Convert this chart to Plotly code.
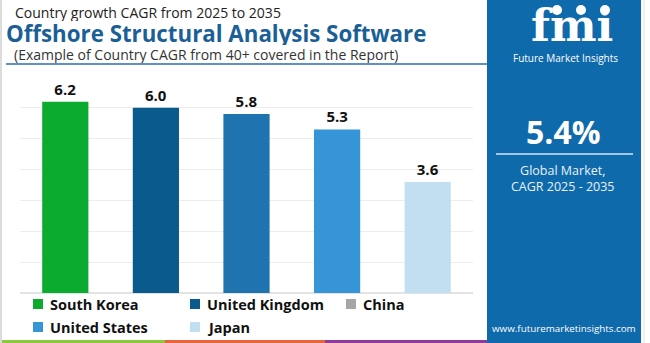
import plotly.graph_objects as go

W, H = 650, 343

countries = ["South Korea", "United Kingdom", "China", "United States", "Japan"]
cagr = [6.2, 6.0, 5.8, 5.3, 3.6]
bar_colors = ["#0bab2f", "#0b5a8e", "#1f73ae", "#3595d6", "#c2dff1"]
legend_colors = ["#0bab2f", "#0b5a8e", "#a6a6a6", "#3595d6", "#c2dff1"]
y_ticks = [0, 1, 2, 3, 4, 5, 6, 7]

title_top = "Country growth CAGR from 2025 to 2035"
title_main = "Offshore Structural Analysis Software"
title_sub = "(Example of Country CAGR from 40+ covered in the Report)"
global_cagr = "5.4%"
panel_lines = ["Global Market,", "CAGR 2025 - 2035"]
website = "www.futuremarketinsights.com"
logo_text = "fmi"
logo_caption = "Future Market Insights"

FONT = "Open Sans"
PANEL_BLUE = "#0f6aab"
TITLE_BLUE = "#1b5f97"


def px(x):
    return x / W


def py(y):
    return 1 - y / H


fig = go.Figure()
fig.add_trace(go.Bar(
    x=countries, y=cagr,
    marker=dict(color=bar_colors, line=dict(width=0)),
    text=[f"{v:.1f}" for v in cagr],
    textposition="outside",
    textfont=dict(family=FONT, size=15, color="#111111", weight="bold"),
    cliponaxis=False,
    showlegend=False,
    hoverinfo="skip",
))

fig.update_layout(
    width=W, height=H,
    margin=dict(l=0, r=0, t=0, b=0),
    paper_bgcolor="white",
    plot_bgcolor="white",
    bargap=0.49,
    showlegend=False,
    font=dict(family=FONT),
    xaxis=dict(domain=[px(20), px(473)], showticklabels=False, showgrid=False,
               zeroline=False, showline=False, ticks=""),
    yaxis=dict(domain=[py(293), py(77)], range=[0, 7], tickvals=y_ticks,
               showticklabels=False, showgrid=True, gridcolor="#ededed",
               gridwidth=1, zeroline=True, zerolinecolor="#e3e3e3",
               showline=False, ticks=""),
)

shapes = []
annotations = []

# outer thin border on left
shapes.append(dict(type="line", xref="paper", yref="paper", x0=px(1), x1=px(1),
                   y0=0, y1=1, line=dict(color="#dcdcdc", width=2)))

# right panel
shapes.append(dict(type="rect", xref="paper", yref="paper", x0=px(487), x1=px(641),
                   y0=0, y1=1, fillcolor=PANEL_BLUE, line=dict(width=0), layer="below"))
shapes.append(dict(type="line", xref="paper", yref="paper", x0=px(644), x1=px(644),
                   y0=0, y1=1, line=dict(color="#e2e2e2", width=1)))

# line under titles
shapes.append(dict(type="line", xref="paper", yref="paper", x0=px(6), x1=px(487),
                   y0=py(64), y1=py(64), line=dict(color="#2a6fa8", width=1.5)))

# bottom colour strip
for x0, x1, c in [(2, 165, "#8dc63f"), (165, 325, "#e8643c"), (325, 487, "#8e3a9a")]:
    shapes.append(dict(type="rect", xref="paper", yref="paper", x0=px(x0), x1=px(x1),
                       y0=0, y1=py(340), fillcolor=c, line=dict(width=0)))

# panel divider
shapes.append(dict(type="line", xref="paper", yref="paper", x0=px(496), x1=px(633),
                   y0=py(154), y1=py(154), line=dict(color="#d5e6f3", width=1.5)))

# logo icons (small circles)
for cx in [557, 581, 605]:
    shapes.append(dict(type="circle", xref="paper", yref="paper",
                       x0=px(cx - 5), x1=px(cx + 5), y0=py(15), y1=py(5),
                       fillcolor="white", line=dict(width=0)))

# titles
annotations.append(dict(text=title_top, x=px(13), y=py(13), xref="paper", yref="paper",
                        xanchor="left", yanchor="middle", showarrow=False, height=17,
                        font=dict(family=FONT, size=14, color="#222222")))
annotations.append(dict(text=f"<b>{title_main}</b>", x=px(4), y=py(33.5), xref="paper",
                        yref="paper", xanchor="left", yanchor="middle", showarrow=False,
                        height=24,
                        font=dict(family=FONT, size=22.3, color=TITLE_BLUE)))
annotations.append(dict(text=title_sub, x=px(12), y=py(54.5), xref="paper", yref="paper",
                        xanchor="left", yanchor="middle", showarrow=False, height=17,
                        font=dict(family=FONT, size=14, color="#333333")))

# legend (manual, two rows)
legend_pos = [(33, 304), (190, 304), (346, 304), (33, 327), (190, 327)]
for name, col, (lx, ly) in zip(countries, legend_colors, legend_pos):
    shapes.append(dict(type="rect", xref="paper", yref="paper",
                       x0=px(lx), x1=px(lx + 10), y0=py(ly + 5), y1=py(ly - 5),
                       fillcolor=col, line=dict(width=0)))
    annotations.append(dict(text=f"<b>{name}</b>", x=px(lx + 15), y=py(ly), xref="paper",
                            yref="paper", xanchor="left", yanchor="middle", showarrow=False,
                            font=dict(family=FONT, size=14.5, color="#111111")))

# logo
annotations.append(dict(text=f"<b>{logo_text}</b>", x=px(572), y=py(25), xref="paper",
                        yref="paper", xanchor="center", yanchor="middle", showarrow=False,
                        font=dict(family="DejaVu Serif", size=44, color="white")))
annotations.append(dict(text=logo_caption, x=px(565), y=py(58), xref="paper",
                        yref="paper", xanchor="center", yanchor="middle", showarrow=False,
                        font=dict(family=FONT, size=10, color="white")))

# panel texts
annotations.append(dict(text=f"<b>{global_cagr}</b>", x=px(563), y=py(131), xref="paper",
                        yref="paper", xanchor="center", yanchor="middle", showarrow=False,
                        font=dict(family=FONT, size=32, color="white")))
annotations.append(dict(text="<br>".join(panel_lines), x=px(563), y=py(178), xref="paper",
                        yref="paper", xanchor="center", yanchor="middle", showarrow=False,
                        font=dict(family=FONT, size=12.5, color="#e8f1f8")))
annotations.append(dict(text=website, x=px(564), y=py(328), xref="paper", yref="paper",
                        xanchor="center", yanchor="middle", showarrow=False,
                        font=dict(family=FONT, size=9.8, color="white")))

fig.update_layout(shapes=shapes, annotations=annotations)
fig.write_html("out.html")
